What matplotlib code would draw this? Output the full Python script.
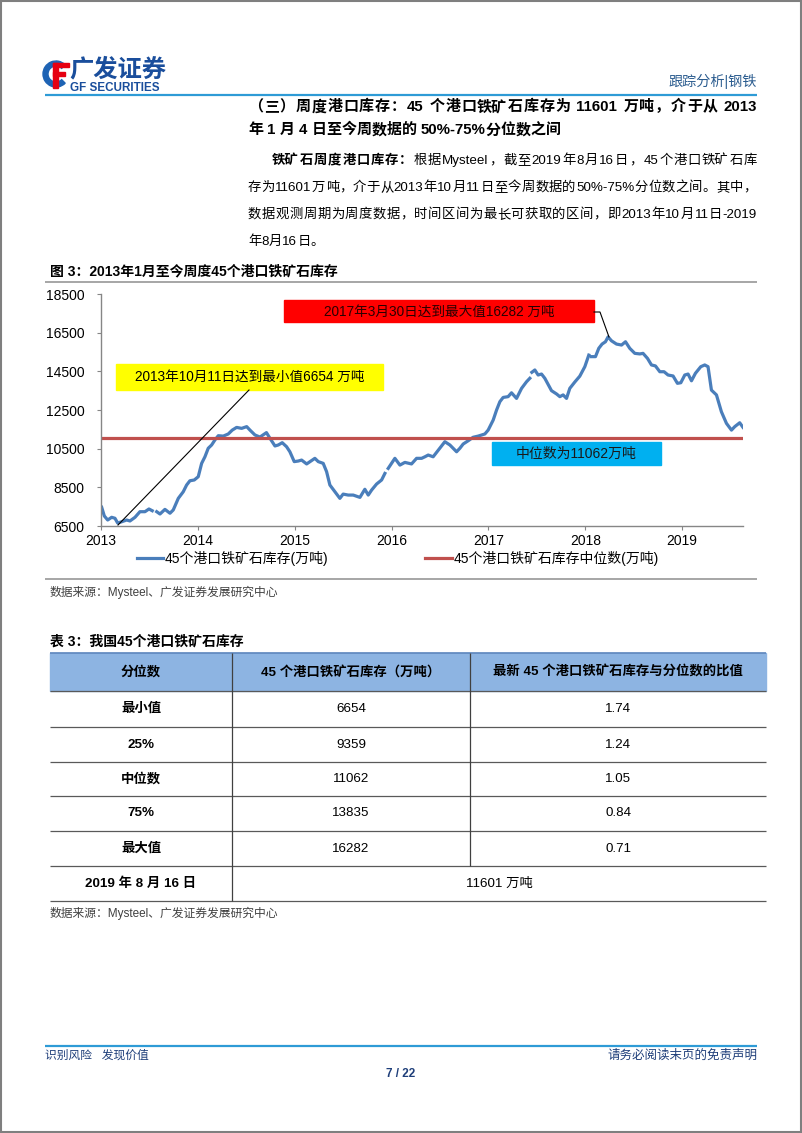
import re
import numpy as np
import matplotlib
matplotlib.use('Agg')
import matplotlib.pyplot as plt
from matplotlib.patches import Rectangle, Wedge
from matplotlib.lines import Line2D

plt.rcParams['font.family'] = ['Liberation Sans', 'Noto Sans CJK SC']
plt.rcParams['axes.unicode_minus'] = False

# ---------------- data ----------------
NA = float('nan')
inventory_points = [
    (2013.007, 7470), (2013.034, 7020), (2013.069, 6810), (2013.110, 6950), (2013.144, 6900),
    (2013.172, 6654), (2013.214, 6720), (2013.265, 6810), (2013.299, 6760), (2013.351, 6950),
    (2013.402, 7240), (2013.454, 7240), (2013.495, 7380), (2013.529, 7290), (2013.545, NA),
    (2013.575, 7240), (2013.609, 7120), (2013.660, 7360), (2013.712, 7160), (2013.746, 7330),
    (2013.798, 7930), (2013.849, 8270), (2013.884, 8620), (2013.918, 8840), (2013.963, 8880),
    (2014.004, 9050), (2014.039, 9740), (2014.073, 10080), (2014.107, 10520), (2014.142, 10690),
    (2014.176, 10950), (2014.211, 11170), (2014.262, 11150), (2014.314, 11260), (2014.355, 11460),
    (2014.400, 11600), (2014.452, 11550), (2014.504, 11640), (2014.538, 11460), (2014.589, 11210),
    (2014.641, 11100), (2014.708, 11330), (2014.744, 11040), (2014.796, 10640), (2014.830, 10690),
    (2014.871, 10810), (2014.916, 10600), (2014.950, 10340), (2014.995, 9830), (2015.036, 9860),
    (2015.071, 9910), (2015.123, 9710), (2015.174, 9880), (2015.208, 10000), (2015.243, 9830),
    (2015.294, 9740), (2015.329, 9310), (2015.363, 8620), (2015.415, 8270), (2015.466, 7930),
    (2015.500, 8150), (2015.552, 8100), (2015.604, 8100), (2015.673, 7980), (2015.724, 8400),
    (2015.759, 8100), (2015.794, 8360), (2015.845, 8670), (2015.897, 8880), (2015.931, 9220),
    (2015.948, NA), (2015.965, 9480), (2016.000, 9740), (2016.034, 10000), (2016.086, 9650),
    (2016.137, 9790), (2016.206, 9710), (2016.258, 10000), (2016.310, 10000), (2016.344, 10080),
    (2016.378, 10170), (2016.429, 10080), (2016.498, 10520), (2016.550, 10860), (2016.602, 10690),
    (2016.671, 10340), (2016.705, 10520), (2016.739, 10740), (2016.791, 10910), (2016.842, 11090),
    (2016.894, 11150), (2016.963, 11260), (2016.997, 11460), (2017.049, 11980), (2017.084, 12500),
    (2017.118, 12930), (2017.152, 13150), (2017.203, 13190), (2017.238, 13390), (2017.290, 13100),
    (2017.342, 13620), (2017.393, 13960), (2017.427, 14140), (2017.438, NA), (2017.448, 14450),
    (2017.479, 14570), (2017.513, 14310), (2017.548, 14360), (2017.582, 14140), (2017.651, 13500),
    (2017.703, 13330), (2017.737, 13190), (2017.771, 13280), (2017.806, 13100), (2017.840, 13620),
    (2017.892, 13950), (2017.943, 14250), (2017.995, 14740), (2018.036, 15340), (2018.050, NA),
    (2018.064, 15260), (2018.105, 15260), (2018.139, 15690), (2018.173, 15910), (2018.208, 16030),
    (2018.235, 16282), (2018.270, 16080), (2018.322, 15910), (2018.374, 15860), (2018.415, 16030),
    (2018.459, 15690), (2018.511, 15430), (2018.563, 15400), (2018.596, 15430), (2018.642, 15170),
    (2018.683, 14830), (2018.724, 14780), (2018.769, 14480), (2018.813, 14480), (2018.854, 14310),
    (2018.906, 14260), (2018.951, 13880), (2018.986, 13910), (2019.027, 14310), (2019.061, 14360),
    (2019.096, 14010), (2019.137, 14400), (2019.192, 14740), (2019.233, 14830), (2019.267, 14740),
    (2019.302, 13530), (2019.354, 13280), (2019.405, 12410), (2019.457, 11810), (2019.509, 11460),
    (2019.543, 11640), (2019.594, 11840), (2019.628, 11601),
]
median_value = 11062
x_ticks = [2013, 2014, 2015, 2016, 2017, 2018, 2019]
y_ticks = [6500, 8500, 10500, 12500, 14500, 16500, 18500]
series_labels = ['45个港口铁矿石库存(万吨)', '45个港口铁矿石库存中位数(万吨)']
max_note = '2017年3月30日达到最大值16282 万吨'
min_note = '2013年10月11日达到最小值6654 万吨'
median_note = '中位数为11062万吨'

table_header = ['分位数', '45 个港口铁矿石库存（万吨）', '最新 45 个港口铁矿石库存与分位数的比值']
table_rows = ['最小值', '25%', '中位数', '75%', '最大值']
table_values = ['6654', '9359', '11062', '13835', '16282']
table_ratios = ['1.74', '1.24', '1.05', '0.84', '0.71']
latest_label = '2019 年 8 月 16 日'
latest_value = '11601 万吨'

dates = [p[0] for p in inventory_points]
inventory = [p[1] for p in inventory_points]

# ---------------- figure ----------------
W, H = 802, 1133
fig = plt.figure(figsize=(W / 100, H / 100), dpi=100)
fig.patch.set_facecolor('white')

# chart axes (pixel box: x 101-743, y 294-526)
ax = fig.add_axes([101 / W, 1 - 526 / H, 642 / W, 232 / H])
ax.plot(dates, inventory, color='#4A7EBB', lw=2.3, solid_joinstyle='round')
ax.axhline(median_value, color='#C0504D', lw=2.3)
ax.set_xlim(2013, 2019.628)
ax.set_ylim(6500, 18500)
ax.set_xticks(x_ticks)
ax.set_yticks(y_ticks)
for s in ['top', 'right']:
    ax.spines[s].set_visible(False)
for s in ['left', 'bottom']:
    ax.spines[s].set_color('#868686')
    ax.spines[s].set_linewidth(1.0)
ax.tick_params(axis='both', labelsize=10, length=3, width=0.8, color='#868686', direction='out')
ax.tick_params(axis='y', pad=9)
ax.tick_params(axis='x', pad=3)
ax.set_zorder(1)

# overlay axes in pixel coordinates
ov = fig.add_axes([0, 0, 1, 1])
ov.set_xlim(0, W)
ov.set_ylim(H, 0)
ov.axis('off')
ov.patch.set_alpha(0)
ov.set_zorder(2)
R = fig.canvas.get_renderer()


def T(x, y, s, size, weight='normal', color='black', ha='left', va='center', **kw):
    return ov.text(x, y, s, fontsize=size, fontweight=weight, color=color, ha=ha, va=va, **kw)


def hline(y, x0, x1, color, lw):
    ov.add_line(Line2D([x0, x1], [y, y], color=color, lw=lw, solid_capstyle='butt'))


def vline(x, y0, y1, color, lw):
    ov.add_line(Line2D([x, x], [y0, y1], color=color, lw=lw, solid_capstyle='butt'))


def draw_line(segments, x0, y, size, x1=None, color='black'):
    """Draw a text line token by token on a common baseline, optionally justified."""
    base = y + 0.36 * size * 100 / 72
    toks = []
    for s, w in segments:
        for tk in re.findall(r'[A-Za-z0-9%\.\-]+| +|.', s):
            # keep a lone '矿' together with the glyph before it (single-glyph
            # placement of this character drifts vertically in Agg)
            if tk == '矿' and toks and toks[-1][1] == w and not toks[-1][0].isascii():
                toks[-1] = (toks[-1][0] + tk, w)
            else:
                toks.append((tk, w))
    texts, widths = [], []
    for tk, w in toks:
        if tk.strip() == '':
            texts.append(None)
            widths.append(size * 100 / 72 * 0.28 * len(tk))
            continue
        fam = 'Liberation Sans' if tk.isascii() else 'Noto Sans CJK SC'
        t = T(0, base, tk, size, weight=w, color=color, va='baseline', family=fam)
        texts.append(t)
        widths.append(t.get_window_extent(renderer=R).width)
    gap = 0.0
    if x1 is not None and len(toks) > 1:
        gap = (x1 - x0 - sum(widths)) / (len(toks) - 1)
    x = x0
    for t, wd in zip(texts, widths):
        if t is not None:
            t.set_x(x)
        x += wd + gap


# page border
ov.add_patch(Rectangle((0.75, 0.75), W - 1.5, H - 1.5, fill=False, ec='#7F7F7F', lw=1.5))

# ---------------- header ----------------
ov.add_patch(Wedge((56, 74), 13, 45, 315, width=5, color='#1E63B4'))
ov.add_patch(Rectangle((53, 62.5), 4.8, 25, color='#E60012'))
ov.add_patch(Rectangle((53, 62.5), 15.5, 4.8, color='#E60012'))
ov.add_patch(Rectangle((53, 72), 12, 4.4, color='#E60012'))
T(69, 70, '广发证券', 17.5, weight='bold', color='#1A4E9C')
T(70, 88, 'GF SECURITIES', 8.4, weight='bold', color='#1A4E9C')
T(757, 81, '跟踪分析|钢铁', 10.2, color='#2B5C8F', ha='right')
hline(95, 45, 757, '#2E9BD6', 1.6)

# section title
draw_line([('（三）周度港口库存：45 个港口铁矿石库存为 11601 万吨，介于从 2013', 'bold')],
          248, 106, 10.8, x1=757)
draw_line([('年 1 月 4 日至今周数据的 50%-75%分位数之间', 'bold')], 248, 129, 10.8)

# paragraph
draw_line([('铁矿石周度港口库存：', 'bold'),
           ('根据Mysteel，截至2019年8月16日，45个港口铁矿石库', 'normal')],
          272, 159, 9.6, x1=757)
draw_line([('存为11601万吨，介于从2013年10月11日至今周数据的50%-75%分位数之间。其中，', 'normal')],
          248, 186, 9.6, x1=757)
draw_line([('数据观测周期为周度数据，时间区间为最长可获取的区间，即2013年10月11日-2019', 'normal')],
          248, 213, 9.6, x1=757)
draw_line([('年8月16日。', 'normal')], 248, 240, 9.6)

# figure title
T(50, 271, '图 3：2013年1月至今周度45个港口铁矿石库存', 10, weight='bold')
hline(282, 45, 757, '#A6A6A6', 1.4)

# ---------------- chart annotations ----------------
ov.add_patch(Rectangle((284, 300), 310, 22, color='#FF0000'))
T(439, 311.5, max_note, 9.8, color='#2A0000', ha='center')
ov.add_line(Line2D([594, 600, 609], [312, 312, 337], color='black', lw=0.8))

ov.add_patch(Rectangle((116, 364), 267, 26, color='#FFFF00'))
T(249.5, 377, min_note, 9.8, color='black', ha='center')
ov.add_line(Line2D([249, 118], [390, 525], color='black', lw=0.8))

ov.add_patch(Rectangle((492, 442), 169, 23, color='#00B0F0'))
T(576.5, 453.5, median_note, 10, color='#1A1A1A', ha='center')

# legend
ov.add_line(Line2D([137, 163], [558, 558], color='#4A7EBB', lw=2.3))
T(165, 558, series_labels[0], 10)
ov.add_line(Line2D([425, 452], [558, 558], color='#C0504D', lw=2.3))
T(454, 558, series_labels[1], 10)

hline(579, 45, 757, '#A6A6A6', 1.4)
T(50, 592, '数据来源：Mysteel、广发证券发展研究中心', 8.5, color='#404040')

# ---------------- table ----------------
T(50, 642, '表 3：我国45个港口铁矿石库存', 10, weight='bold')
tx0, tx1 = 50, 766
cx = [232, 470]
row_edges = [653, 691, 727, 762, 796, 831, 866, 901]
ov.add_patch(Rectangle((tx0, row_edges[0]), tx1 - tx0, row_edges[1] - row_edges[0], color='#8DB4E2'))
hline(row_edges[0], tx0, tx1, '#5F87BD', 1.2)
for yy in row_edges[1:]:
    hline(yy, tx0, tx1, '#595959', 0.9)
vline(cx[0], row_edges[0], row_edges[-1], '#404040', 0.9)
vline(cx[1], row_edges[0], row_edges[-2], '#404040', 0.9)

col_centers = [(tx0 + cx[0]) / 2, (cx[0] + cx[1]) / 2, (cx[1] + tx1) / 2]
hy = (row_edges[0] + row_edges[1]) / 2
for c, lab in zip(col_centers, table_header):
    T(c, hy, lab, 9.6, weight='bold', ha='center')
for i, (lab, v, r) in enumerate(zip(table_rows, table_values, table_ratios)):
    yc = (row_edges[i + 1] + row_edges[i + 2]) / 2
    T(col_centers[0], yc, lab, 9.6, weight='bold', ha='center')
    T(col_centers[1], yc, v, 9.6, ha='center')
    T(col_centers[2], yc, r, 9.6, ha='center')
yc = (row_edges[-2] + row_edges[-1]) / 2
T(col_centers[0], yc, latest_label, 9.6, weight='bold', ha='center')
T((cx[0] + tx1) / 2, yc, latest_value, 9.6, ha='center')

T(50, 913, '数据来源：Mysteel、广发证券发展研究中心', 8.5, color='#404040')

# ---------------- footer ----------------
hline(1046, 45, 757, '#2E9BD6', 1.6)
ft = T(45, 1056, '识别风险   发现价值', 8.5, color='#1F3F7A')
ft.set_clip_path(Rectangle((40, 1049), 200, 10, transform=ov.transData))
T(757, 1056, '请务必阅读末页的免责声明', 9, color='#1F3F7A', ha='right')
T(401, 1074, '7 / 22', 8.5, weight='bold', color='#1F3F7A', ha='center')

fig.savefig('out.png', dpi=100, facecolor='white')
